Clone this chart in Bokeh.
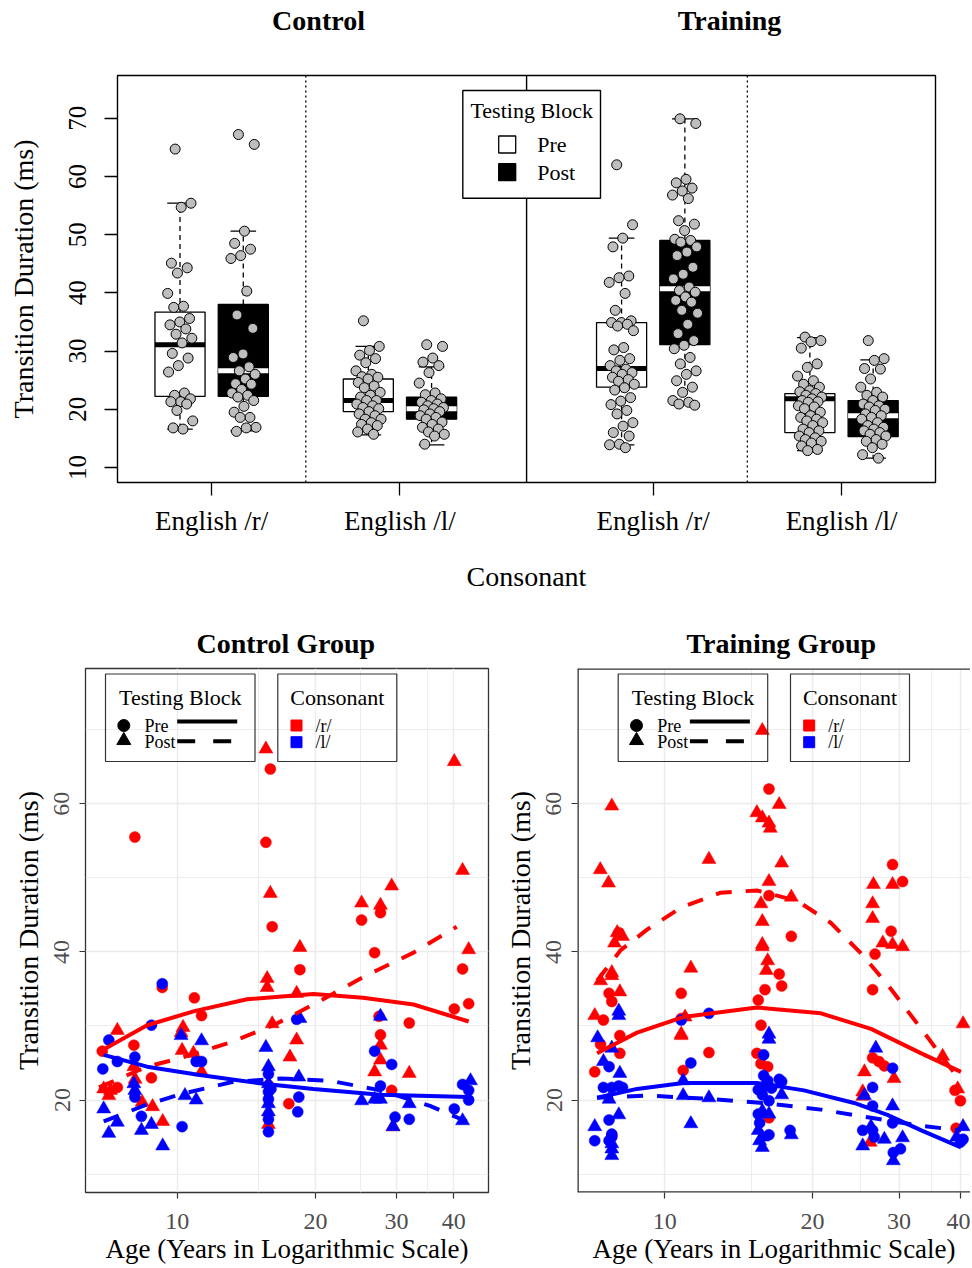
import math
from bokeh.plotting import figure
from bokeh.layouts import column, row
from bokeh.models import Range1d, FixedTicker, Label, BoxAnnotation, NumeralTickFormatter, Span
from bokeh.embed import file_html
from bokeh.resources import INLINE

FONT = "Liberation Serif"
RED, BLUE = "#FF0000", "#0000FF"

# ======================= DATA: top panel (Transition Duration, ms) =======================
top_panel_titles = ["Control", "Training"]
top_tick_labels = ["English /r/", "English /l/", "English /r/", "English /l/"]
legend_blocks = ["Pre", "Post"]

ctrl_r_pre = [64.7, 55.4, 54.7, 45.1, 44.3, 43.4, 39.9, 37.7, 37.5, 35.6, 35.0, 34.5, 33.8, 32.9, 32.2,
              31.4, 29.6, 28.8, 27.5, 26.4, 22.8, 22.4, 21.8, 21.3, 21.3, 20.9, 19.8, 18.0, 16.6, 16.8]
ctrl_r_post = [67.2, 65.5, 50.6, 48.5, 47.5, 46.4, 45.9, 40.3, 36.2, 33.9, 29.5, 28.9, 27.3, 26.6, 26.0,
               25.2, 24.4, 24.3, 23.4, 22.8, 22.4, 22.1, 21.5, 20.5, 19.5, 18.6, 18.6, 16.9, 16.8, 16.2]
ctrl_l_pre = [35.2, 30.8, 30.1, 29.3, 28.7, 28.0, 26.6, 26.0, 25.6, 25.5, 25.2, 24.6, 24.0, 23.7, 22.9, 22.4,
              22.1, 21.5, 21.5, 20.9, 20.6, 20.3, 20.1, 19.6, 19.2, 18.9, 18.3, 18.3, 17.7, 17.4, 17.2, 16.6,
              16.1, 15.7]
ctrl_l_post = [31.1, 30.8, 28.8, 28.1, 27.5, 26.3, 24.5, 22.8, 22.5, 21.8, 21.5, 21.2, 20.9, 20.6, 20.3,
               20.1, 19.9, 19.6, 19.2, 18.9, 18.6, 18.3, 17.8, 17.4, 16.9, 16.6, 16.1, 15.7, 15.4, 14.0]
trn_r_pre = [62.0, 51.7, 49.4, 47.9, 42.9, 42.6, 41.8, 39.9, 37.0, 35.2, 34.9, 34.9, 34.6, 34.3, 33.5, 30.6,
             30.2, 28.7, 28.4, 27.5, 26.9, 26.6, 26.3, 26.0, 25.5, 25.1, 24.8, 24.3, 23.7, 23.3, 22.0, 21.4,
             20.8, 19.8, 19.2, 17.7, 17.1, 16.0, 15.4, 14.0, 13.9, 13.4]
trn_r_post = [69.9, 69.1, 59.5, 58.9, 58.0, 57.5, 56.8, 56.2, 52.4, 51.8, 50.7, 49.2, 49.0, 48.7, 47.9, 47.0,
              46.4, 44.4, 43.2, 42.4, 41.0, 40.4, 40.1, 39.3, 38.7, 38.4, 37.0, 36.5, 34.6, 33.0, 31.8, 31.0,
              30.4, 28.9, 27.8, 26.6, 26.0, 24.9, 23.8, 22.9, 21.5, 21.2, 20.9, 20.7]
trn_l_pre = [32.4, 31.8, 31.6, 30.5, 27.8, 27.2, 25.7, 24.9, 24.3, 23.8, 23.2, 23.0, 22.7, 22.4, 22.1, 21.8,
             21.5, 21.3, 21.2, 20.6, 20.4, 20.1, 19.5, 18.9, 18.6, 18.3, 18.0, 17.7, 17.2, 16.6, 16.3, 16.0,
             15.4, 15.1, 14.8, 14.5, 14.2, 13.7, 13.1, 12.9]
trn_l_post = [31.8, 28.7, 28.4, 27.0, 26.9, 25.2, 23.8, 22.9, 22.4, 22.1, 21.5, 20.9, 20.6, 20.4, 20.0, 19.8,
              19.2, 18.9, 18.6, 18.3, 17.7, 17.2, 16.9, 16.6, 16.3, 16.0, 15.7, 15.4, 14.8, 14.5, 14.0, 13.4,
              12.2, 11.6]

# box statistics, order: ctrl r pre, ctrl r post, ctrl l pre, ctrl l post, trn r pre, trn r post, trn l pre, trn l post
box_q1 = [22.2, 22.2, 19.6, 18.3, 23.8, 31.1, 16.0, 15.3]
box_med = [31.1, 26.6, 21.5, 20.1, 27.0, 40.7, 21.8, 18.9]
box_q3 = [36.7, 38.0, 25.2, 22.1, 34.9, 49.0, 22.7, 21.5]
box_lo = [16.6, 16.3, 15.6, 13.9, 13.9, 20.9, 12.9, 11.6]
box_hi = [55.4, 50.6, 30.8, 27.3, 49.4, 69.9, 32.3, 28.5]

# ======================= DATA: bottom panels (age in years, duration in ms) =======================
bottom_titles = ["Control  Group", "Training Group"]
consonant_labels = ["/r/", "/l/"]

ctrl_r_pre_age = [15.95, 8.09, 15.6, 16.1, 9.28, 10.9, 11.3, 6.87, 8.05, 8.79, 7.41, 27.7, 25.2, 26.9, 18.5,
                  41.8, 40.1, 43.1, 27.5, 32.0, 27.7, 29.3, 17.5, 15.8]
ctrl_r_pre_ms = [64.7, 55.5, 54.8, 43.4, 35.2, 33.8, 31.4, 26.6, 27.4, 23.0, 21.7, 45.3, 44.3, 39.9, 37.6,
                 37.7, 32.3, 33.0, 31.3, 30.4, 28.8, 21.3, 19.5, 22.0]
ctrl_r_post_age = [15.6, 15.95, 15.7, 15.7, 7.41, 16.1, 10.3, 10.2, 10.25, 10.85, 11.3, 8.05, 8.1, 6.92, 7.16,
                   7.1, 8.39, 8.84, 9.3, 15.8, 40.1, 41.8, 29.3, 25.2, 27.7, 18.5, 43.1, 18.2, 18.2, 27.7,
                   17.6, 27.7, 26.9, 32.0, 29.5]
ctrl_r_post_ms = [67.4, 47.9, 36.4, 35.2, 29.4, 30.3, 29.8, 29.1, 26.7, 26.3, 23.8, 24.5, 22.8, 21.5, 21.3,
                  20.6, 19.7, 19.1, 17.1, 16.7, 65.7, 51.0, 48.9, 46.6, 46.3, 40.6, 40.3, 34.4, 28.1, 27.4,
                  25.8, 25.4, 23.8, 23.6, 16.4]
ctrl_l_pre_age = [9.28, 8.79, 7.1, 8.09, 7.41, 11.0, 11.3, 6.89, 8.09, 8.36, 10.25, 15.8, 15.8, 15.8, 15.8,
                  15.8, 18.2, 18.4, 18.3, 26.9, 29.3, 41.8, 43.1, 43.1, 27.7, 29.8, 32.0, 40.1, 16.0]
ctrl_l_pre_ms = [35.7, 30.1, 28.1, 25.8, 25.2, 25.2, 25.2, 24.2, 20.4, 17.8, 16.4, 23.5, 21.1, 20.1, 17.4,
                 15.7, 30.9, 20.4, 18.4, 26.6, 24.8, 22.1, 21.3, 20.0, 21.9, 17.7, 17.4, 18.8, 21.5]
ctrl_l_post_age = [10.2, 11.3, 15.6, 8.05, 8.09, 6.92, 7.41, 7.1, 8.36, 8.79, 9.3, 10.4, 11.0, 15.8, 15.8,
                   15.8, 15.8, 18.5, 27.7, 18.4, 25.2, 26.9, 27.7, 32.0, 29.5, 41.8, 43.5]
ctrl_l_post_ms = [28.7, 28.0, 27.1, 22.2, 21.3, 18.8, 17.0, 15.5, 15.9, 16.7, 13.8, 20.6, 20.0, 24.5, 22.2,
                  19.5, 18.4, 31.0, 31.3, 23.1, 19.9, 20.1, 20.1, 19.5, 16.4, 17.2, 22.6]

trn_r_pre_age = [16.3, 16.3, 29.1, 30.5, 28.9, 18.1, 8.06, 26.8, 17.1, 17.3, 16.0, 26.5, 7.7, 7.8, 10.8, 15.5,
                 10.8, 7.5, 15.7, 8.1, 7.4, 12.3, 15.4, 8.1, 26.5, 27.3, 28.0, 15.7, 16.2, 7.2, 10.9, 39.0,
                 40.0, 7.8, 16.3, 39.2]
trn_r_pre_ms = [62.0, 47.6, 51.8, 49.5, 42.8, 42.1, 42.6, 39.7, 37.0, 35.4, 34.9, 34.9, 34.4, 33.3, 34.4, 33.5,
                31.0, 30.8, 30.1, 28.7, 27.5, 26.4, 26.3, 26.3, 25.7, 25.2, 24.6, 24.9, 24.5, 23.8, 24.0, 21.3,
                19.9, 15.2, 17.6, 16.2]
trn_r_post_age = [15.8, 7.8, 17.1, 15.4, 15.8, 16.3, 16.4, 7.39, 12.3, 17.3, 7.68, 16.3, 18.1, 26.6, 29.1,
                  15.7, 26.5, 15.8, 26.5, 8.0, 8.2, 7.9, 15.8, 27.8, 29.1, 30.5, 15.8, 16.2, 11.3, 7.8, 7.8,
                  16.1, 7.4, 8.1, 7.2, 11.0, 10.8, 10.8, 25.5, 29.3, 25.3, 25.3, 40.5, 36.8, 39.5, 26.2]
trn_r_post_ms = [69.9, 59.7, 59.9, 58.8, 58.1, 57.4, 56.7, 51.1, 52.5, 52.0, 49.3, 49.5, 47.4, 49.1, 49.1,
                 46.5, 46.5, 44.1, 44.5, 42.6, 42.1, 41.2, 41.0, 41.2, 41.0, 40.7, 40.7, 38.8, 37.8, 37.2, 36.8,
                 37.5, 36.1, 34.6, 31.4, 31.2, 28.9, 28.7, 23.8, 22.9, 21.1, 20.5, 30.3, 25.9, 21.5, 14.3]
trn_l_pre_age = [10.8, 12.3, 15.9, 11.3, 7.7, 29.1, 7.5, 7.8, 8.06, 8.2, 15.9, 16.2, 16.5, 17.1, 17.3, 15.5,
                 15.8, 16.0, 16.3, 26.5, 26.5, 15.5, 15.6, 7.7, 18.0, 25.3, 26.5, 26.7, 29.1, 7.2, 7.8, 7.8,
                 7.7, 16.3, 29.2, 30.2, 40.5, 40.0]
trn_l_pre_ms = [30.8, 31.7, 26.1, 25.0, 24.5, 24.3, 21.7, 21.7, 21.9, 21.7, 23.3, 22.6, 21.6, 22.8, 22.5, 21.4,
                20.7, 21.9, 19.9, 21.7, 19.2, 18.1, 16.9, 17.3, 15.9, 15.9, 15.9, 15.0, 16.9, 14.5, 15.4, 15.0,
                14.5, 15.3, 12.9, 13.4, 14.7, 14.3]
trn_l_post_age = [8.06, 8.06, 7.3, 16.3, 16.3, 7.8, 26.9, 7.5, 8.1, 10.9, 10.9, 17.3, 7.7, 12.3, 29.1, 25.5,
                  15.8, 16.3, 8.06, 7.2, 11.3, 18.1, 7.8, 7.8, 7.8, 15.5, 15.8, 15.6, 15.8, 25.3, 28.0, 30.5,
                  29.2, 40.5, 39.3, 26.3]
trn_l_post_ms = [32.0, 31.4, 28.4, 28.9, 28.2, 27.0, 27.0, 25.2, 23.6, 22.6, 20.6, 20.7, 20.1, 20.3, 19.2,
                 20.6, 18.5, 18.1, 18.0, 16.4, 16.8, 15.3, 14.1, 13.4, 12.5, 15.9, 15.0, 14.5, 13.6, 13.8, 14.7,
                 14.9, 11.8, 16.4, 15.0, 16.4]

# smoothed fits
ctrl_fit_r_pre_age = [6.9, 8.6, 10.9, 14.2, 19.8, 25.4, 32.7, 43.1]
ctrl_fit_r_pre_ms = [26.8, 30.1, 32.0, 33.6, 34.3, 33.8, 32.9, 30.6]
ctrl_fit_r_post_age = [6.76, 8.6, 10.2, 13.1, 16.2, 19.8, 25.4, 32.7, 40.6]
ctrl_fit_r_post_ms = [21.7, 24.5, 25.7, 27.8, 30.1, 32.9, 36.6, 39.9, 43.4]
ctrl_fit_l_pre_age = [6.92, 8.6, 11.1, 15.4, 19.8, 27.7, 43.1]
ctrl_fit_l_pre_ms = [26.1, 24.5, 23.4, 22.2, 21.5, 20.7, 20.4]
ctrl_fit_l_post_age = [6.92, 8.6, 10.2, 13.1, 16.8, 21.5, 27.7, 35.5, 42.7]
ctrl_fit_l_post_ms = [17.1, 19.4, 20.8, 22.4, 22.9, 22.6, 21.3, 19.2, 17.1]

trn_fit_r_pre_age = [7.28, 8.78, 10.9, 15.4, 20.8, 26.3, 33.3, 40.1]
trn_fit_r_pre_ms = [26.3, 29.1, 31.2, 32.5, 31.7, 29.6, 26.3, 23.8]
trn_fit_r_post_age = [7.28, 8.12, 9.2, 10.8, 13.0, 15.4, 18.6, 21.8, 25.1, 28.4, 33.3, 37.8, 40.1]
trn_fit_r_post_ms = [36.1, 40.2, 43.0, 46.0, 48.0, 48.3, 46.9, 43.9, 39.8, 35.6, 29.6, 24.7, 22.5]
trn_fit_l_pre_age = [7.28, 8.78, 10.9, 15.4, 19.2, 24.3, 28.4, 33.3, 40.1]
trn_fit_l_pre_ms = [20.3, 21.5, 22.3, 22.3, 21.3, 19.6, 18.0, 15.9, 13.6]
trn_fit_l_post_age = [7.28, 9.2, 12.0, 15.9, 20.8, 26.3, 33.3, 40.1]
trn_fit_l_post_ms = [20.3, 20.6, 20.2, 19.6, 18.7, 17.6, 16.5, 15.9]

# ======================= LAYOUT CONSTANTS =======================
PAGE_W = 970
HDR_H = 48
T_BL = 117
T_FW = 818
T_BR = PAGE_W - T_BL - T_FW

# ======================= HEADER (panel titles of the top figure) =======================
hdr = figure(width=PAGE_W, height=HDR_H, x_range=Range1d(T_BL, T_BL + T_FW), y_range=Range1d(HDR_H, 0),
             output_backend="svg", toolbar_location=None, x_axis_location=None, y_axis_location=None,
             min_border_left=T_BL, min_border_right=T_BR, min_border_top=0, min_border_bottom=0)
hdr.grid.visible = False
hdr.outline_line_color = None
for t, cx in zip(top_panel_titles, [318, 729]):
    hdr.add_layout(Label(x=cx, y=20, text=t, text_align="center", text_baseline="middle",
                         text_font=FONT, text_font_size="28px", text_font_style="bold",
                         text_color="black"))

# ======================= TOP FIGURE =======================
T_W, T_H = PAGE_W, 600 - HDR_H
T_BT, T_BB = 75 - HDR_H, 118
T_FL, T_FT = T_BL, HDR_H + T_BT
T_FH = T_H - T_BT - T_BB
GROUP_PX = 188.3
T_XMAX = T_FW / GROUP_PX
T_Y0, T_Y1 = 7.42, 77.34


def tx(px):
    return (px - T_FL) / GROUP_PX


def ty(py):
    return T_Y1 - (py - T_FT) * (T_Y1 - T_Y0) / T_FH


centers = [0.5, 1.5, 2.845, 3.845]
DX_BLOCK, HALF_BOX, HALF_CAP, JIT = 0.168, 0.133, 0.068, 0.068

top = figure(width=T_W, height=T_H, x_range=Range1d(0, T_XMAX), y_range=Range1d(T_Y0, T_Y1),
             output_backend="svg", toolbar_location=None,
             min_border_left=T_BL, min_border_right=T_BR, min_border_top=T_BT, min_border_bottom=T_BB)
top.grid.visible = False
top.outline_line_color = "black"
top.outline_line_width = 1.4
top.outline_line_alpha = 1.0

mid_c = [(centers[0] + centers[1]) / 2, (centers[2] + centers[3]) / 2]
mid_s = (centers[1] + centers[2]) / 2
top.segment(x0=mid_c, y0=[T_Y0] * 2, x1=mid_c, y1=[T_Y1] * 2, line_color="black",
            line_width=1.3, line_dash="2 3")
top.segment(x0=[mid_s], y0=[T_Y0], x1=[mid_s], y1=[T_Y1], line_color="black", line_width=1.4)

groups_pts = [ctrl_r_pre, ctrl_r_post, ctrl_l_pre, ctrl_l_post, trn_r_pre, trn_r_post, trn_l_pre, trn_l_post]
for k, vals in enumerate(groups_pts):
    g, b = k // 2, k % 2
    xc = centers[g] + (DX_BLOCK if b else -DX_BLOCK)
    fill = "black" if b else "white"
    med_col = "white" if b else "black"
    top.segment(x0=[xc, xc], y0=[box_q3[k], box_q1[k]], x1=[xc, xc], y1=[box_hi[k], box_lo[k]],
                line_color="black", line_width=1.3, line_dash="5 4")
    top.segment(x0=[xc - HALF_CAP] * 2, y0=[box_hi[k], box_lo[k]], x1=[xc + HALF_CAP] * 2,
                y1=[box_hi[k], box_lo[k]], line_color="black", line_width=1.3)
    top.quad(left=[xc - HALF_BOX], right=[xc + HALF_BOX], bottom=[box_q1[k]], top=[box_q3[k]],
             fill_color=fill, line_color="black", line_width=1.3)
    top.segment(x0=[xc - HALF_BOX], y0=[box_med[k]], x1=[xc + HALF_BOX], y1=[box_med[k]],
                line_color=med_col, line_width=5)
    offs = [((i * 0.6180339887 + 0.31) % 1.0 - 0.5) * 2 * JIT for i in range(len(vals))]
    top.scatter(x=[xc + o for o in offs], y=vals, size=10, fill_color="#BEBEBE",
                line_color="black", line_width=1)

top.xaxis.ticker = FixedTicker(ticks=centers)
top.xaxis.major_label_overrides = {c: t for c, t in zip(centers, top_tick_labels)}
top.yaxis.ticker = FixedTicker(ticks=[10, 20, 30, 40, 50, 60, 70])
for ax in (top.xaxis, top.yaxis):
    ax.axis_line_color = None
    ax.major_tick_line_color = "black"
    ax.major_tick_line_width = 1.3
    ax.major_tick_out = 13
    ax.major_tick_in = 0
    ax.minor_tick_line_color = None
    ax.major_label_text_font = FONT
    ax.major_label_text_color = "black"
    ax.axis_label_text_font = FONT
    ax.axis_label_text_font_style = "normal"
    ax.axis_label_text_color = "black"
    ax.axis_label_text_font_size = "28px"
top.xaxis.major_label_text_font_size = "27px"
top.xaxis.major_label_standoff = 10
top.xaxis.axis_label = "Consonant"
top.xaxis.axis_label_standoff = 22
top.yaxis.major_label_text_font_size = "25px"
top.yaxis.major_label_orientation = "vertical"
top.yaxis.major_label_standoff = 18
top.yaxis.axis_label = "Transition Duration (ms)"
top.yaxis.axis_label_standoff = 28

# legend (Testing Block)
top.add_layout(BoxAnnotation(left=tx(462.3), right=tx(600), top=ty(90), bottom=ty(197.7),
                             fill_color="white", fill_alpha=1, line_color="black", line_width=1.4,
                             line_alpha=1))
top.add_layout(Label(x=tx(531.2), y=ty(110), text="Testing Block", text_align="center",
                     text_baseline="middle", text_font=FONT, text_font_size="22px", text_color="black"))
for j, (lab, py) in enumerate(zip(legend_blocks, [144, 171.7])):
    top.add_layout(BoxAnnotation(left=tx(498.2), right=tx(515.2), top=ty(py - 8.5), bottom=ty(py + 8.5),
                                 fill_color="black" if j else "white", fill_alpha=1, line_color="black",
                                 line_width=1.3, line_alpha=1))
    top.add_layout(Label(x=tx(536.7), y=ty(py), text=lab, text_align="left", text_baseline="middle",
                         text_font=FONT, text_font_size="22px", text_color="black"))

# ======================= BOTTOM FIGURES =======================
B_TOP_PAGE = 600
B_H = 667
B_BT, B_BB = 68, 75
B_FT = B_TOP_PAGE + B_BT
B_FH = B_H - B_BT - B_BB
PX_PER_MS = 7.405
B_Y1 = 60 + (803.3 - B_FT) / PX_PER_MS
B_Y0 = 20 - (B_FT + B_FH - 1099.5) / PX_PER_MS


def make_bottom(title, fig_w, bl, br, page_left, xr, series, fits, leg_left, title_offset, open_right):
    fl = page_left + bl
    fw = fig_w - bl - br
    lx0, lx1 = math.log10(xr[0]), math.log10(xr[1])

    def bx(px):
        return 10 ** (lx0 + (px - fl) / fw * (lx1 - lx0))

    def by(py):
        return B_Y1 - (py - B_FT) * (B_Y1 - B_Y0) / B_FH

    p = figure(width=fig_w, height=B_H, x_axis_type="log", x_range=Range1d(*xr),
               y_range=Range1d(B_Y0, B_Y1), output_backend="svg", toolbar_location=None,
               min_border_left=bl, min_border_right=br, min_border_top=B_BT, min_border_bottom=B_BB)
    if open_right:
        p.outline_line_color = None
    else:
        p.outline_line_color = "#333333"
        p.outline_line_width = 1.3
        p.outline_line_alpha = 1.0
    p.xaxis.ticker = FixedTicker(ticks=[10, 20, 30, 40], minor_ticks=[15, 25, 35])
    p.yaxis.ticker = FixedTicker(ticks=[20, 40, 60], minor_ticks=[10, 30, 50, 70])
    p.xaxis.formatter = NumeralTickFormatter(format="0")
    p.grid.grid_line_color = "#EBEBEB"
    p.grid.grid_line_width = 1.4
    p.grid.minor_grid_line_color = "#EBEBEB"
    p.grid.minor_grid_line_width = 0.9
    for ax in (p.xaxis, p.yaxis):
        ax.axis_line_color = None
        ax.major_tick_line_color = "#333333"
        ax.major_tick_line_width = 1.2
        ax.major_tick_out = 6
        ax.major_tick_in = 0
        ax.minor_tick_line_color = None
        ax.major_label_text_font = FONT
        ax.major_label_text_font_size = "24px"
        ax.major_label_text_color = "#4D4D4D"
        ax.axis_label_text_font = FONT
        ax.axis_label_text_font_style = "normal"
        ax.axis_label_text_color = "black"
    p.yaxis.major_label_orientation = "vertical"
    p.yaxis.major_label_standoff = 10
    p.yaxis.axis_label = "Transition Duration (ms)"
    p.yaxis.axis_label_text_font_size = "28px"
    p.yaxis.axis_label_standoff = 8
    p.xaxis.major_label_standoff = 15
    p.xaxis.axis_label = "Age (Years in Logarithmic Scale)"
    p.xaxis.axis_label_text_font_size = "27px"
    p.xaxis.axis_label_standoff = 2

    p.title.text = title
    p.title.align = "left"
    p.title.offset = title_offset
    p.title.text_font = FONT
    p.title.text_font_size = "28px"
    p.title.text_font_style = "bold"
    p.title.text_color = "black"
    p.title.standoff = 19

    for (ages, vals, marker, col) in series:
        p.scatter(ages, vals, marker=marker, size=11 if marker == "circle" else 14,
                  fill_color=col, line_color=col, line_width=0.5)
    for (ages, vals, col, dash) in fits:
        p.line(ages, vals, line_color=col, line_width=4, line_dash=dash)

    if open_right:
        # panel border on three sides only (the right side runs past the picture's edge)
        for loc, dim in ((B_Y0, "width"), (B_Y1, "width"), (xr[0], "height")):
            p.add_layout(Span(location=loc, dimension=dim, line_color="#333333", line_width=2.6))

    # legends
    top_y, bot_y = 673.5, 761
    b1 = leg_left
    p.add_layout(BoxAnnotation(left=bx(b1), right=bx(b1 + 149.5), top=by(top_y), bottom=by(bot_y),
                               fill_alpha=0, line_color="#333333", line_width=1.2, line_alpha=1))
    p.add_layout(Label(x=bx(b1 + 74.75), y=by(696.7), text="Testing Block", text_align="center",
                       text_baseline="middle", text_font=FONT, text_font_size="22px", text_color="black"))
    p.scatter([bx(b1 + 18.3)], [by(725)], marker="circle", size=12, color="black")
    p.scatter([bx(b1 + 18.3)], [by(740)], marker="triangle", size=14, color="black")
    for lab, py in zip(legend_blocks, [725, 741.5]):
        p.add_layout(Label(x=bx(b1 + 39), y=by(py), text=lab, text_align="left", text_baseline="middle",
                           text_font=FONT, text_font_size="18px", text_color="black"))
    p.line([bx(b1 + 71.7), bx(b1 + 131.7)], [by(721)] * 2, line_color="black", line_width=4)
    p.line([bx(b1 + 71.7), bx(b1 + 126.7)], [by(740.7)] * 2, line_color="black", line_width=4,
           line_dash="18 18")
    b2 = b1 + 172.3
    p.add_layout(BoxAnnotation(left=bx(b2), right=bx(b2 + 119), top=by(top_y), bottom=by(bot_y),
                               fill_alpha=0, line_color="#333333", line_width=1.2, line_alpha=1))
    p.add_layout(Label(x=bx(b2 + 59.5), y=by(696.7), text="Consonant", text_align="center",
                       text_baseline="middle", text_font=FONT, text_font_size="22px", text_color="black"))
    for lab, py, col in zip(consonant_labels, [725, 741.7], [RED, BLUE]):
        p.scatter([bx(b2 + 18.7)], [by(py)], marker="square", size=11, color=col)
        p.add_layout(Label(x=bx(b2 + 37.7), y=by(py), text=lab, text_align="left", text_baseline="middle",
                           text_font=FONT, text_font_size="18px", text_color="black"))
    return p


ctrl_series = [(ctrl_r_pre_age, ctrl_r_pre_ms, "circle", RED), (ctrl_r_post_age, ctrl_r_post_ms, "triangle", RED),
               (ctrl_l_pre_age, ctrl_l_pre_ms, "circle", BLUE), (ctrl_l_post_age, ctrl_l_post_ms, "triangle", BLUE)]
ctrl_fits = [(ctrl_fit_r_pre_age, ctrl_fit_r_pre_ms, RED, "solid"),
             (ctrl_fit_r_post_age, ctrl_fit_r_post_ms, RED, "16 14"),
             (ctrl_fit_l_pre_age, ctrl_fit_l_pre_ms, BLUE, "solid"),
             (ctrl_fit_l_post_age, ctrl_fit_l_post_ms, BLUE, "16 14")]
trn_series = [(trn_r_pre_age, trn_r_pre_ms, "circle", RED), (trn_r_post_age, trn_r_post_ms, "triangle", RED),
              (trn_l_pre_age, trn_l_pre_ms, "circle", BLUE), (trn_l_post_age, trn_l_post_ms, "triangle", BLUE)]
trn_fits = [(trn_fit_r_pre_age, trn_fit_r_pre_ms, RED, "solid"),
            (trn_fit_r_post_age, trn_fit_r_post_ms, RED, "16 14"),
            (trn_fit_l_pre_age, trn_fit_l_pre_ms, BLUE, "solid"),
            (trn_fit_l_post_age, trn_fit_l_post_ms, BLUE, "16 14")]

L_W = 495
R_W = PAGE_W - L_W
left = make_bottom(bottom_titles[0], L_W, 85, 7, 0, (6.317, 47.6), ctrl_series, ctrl_fits, 105, 111, False)
r_fw = R_W - 82
right = make_bottom(bottom_titles[1], R_W, 82, 0, L_W, (6.641, 10 ** (1 + (L_W + 82 + r_fw - 664.3) / 491)),
                    trn_series, trn_fits, 617.7, 109, True)

layout = column(hdr, top, row(left, right))
open("out.html", "w").write(file_html(layout, INLINE))
